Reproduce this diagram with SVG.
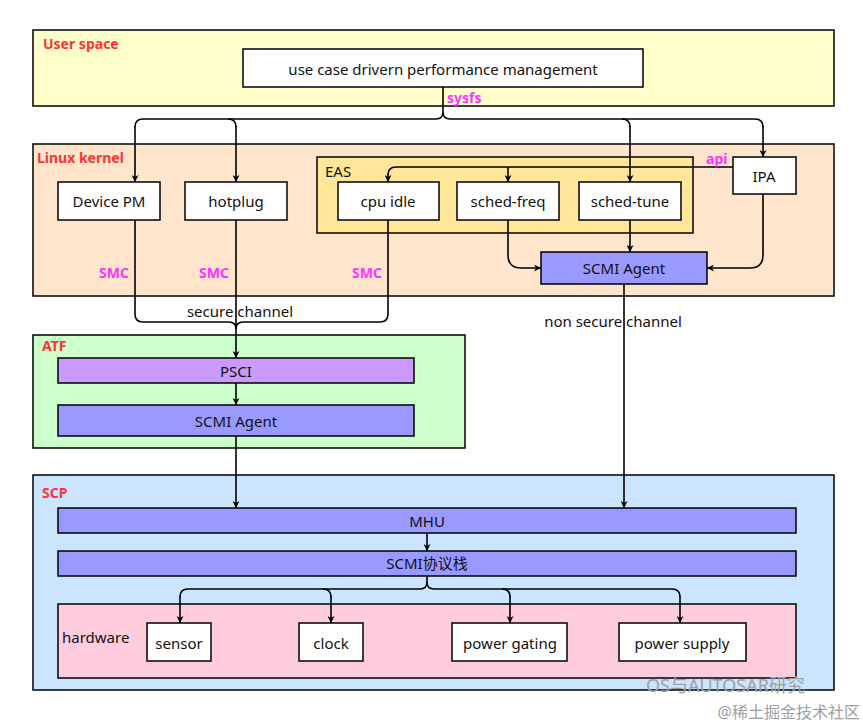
<svg xmlns="http://www.w3.org/2000/svg" width="863" height="727" viewBox="0 0 863 727">
<defs>
<marker id="arr" viewBox="0 0 10 10" refX="10" refY="5" markerWidth="7" markerHeight="7" orient="auto" markerUnits="userSpaceOnUse">
<path d="M0,0 L10,5 L0,10 L3,5 z" fill="#000"/>
</marker>
<style>
.grp{stroke:#000;stroke-width:1.5}
.box{fill:#fff;stroke:#000;stroke-width:1.5}
.bar{fill:#9999ff;stroke:#000;stroke-width:1.5}
.t{font-family:"Noto Sans","DejaVu Sans",sans-serif;font-size:15px;fill:#111;text-anchor:middle;dominant-baseline:central}
.lbl{font-family:"Noto Sans","DejaVu Sans",sans-serif;font-size:14px;font-weight:bold;fill:#ff3333}
.mag{font-family:"Noto Sans","DejaVu Sans",sans-serif;font-size:14px;font-weight:bold;fill:#ff33ff}
.c{fill:none;stroke:#000;stroke-width:1.6}
.ca{fill:none;stroke:#000;stroke-width:1.6;marker-end:url(#arr)}
.wm{font-family:"Noto Sans","Noto Sans CJK SC",sans-serif;fill:#a0a0a0}
</style>
</defs>
<rect width="863" height="727" fill="#fff"/>

<g id="userspace">
<rect x="33" y="30" width="801" height="76" fill="#ffffcc" class="grp"/>
<text x="43" y="43" class="lbl" dominant-baseline="central">User space</text>
</g>
<g id="usecase">
<rect x="243" y="49" width="400" height="38" class="box"/>
<text x="443" y="69" class="t">use case drivern performance management</text>
</g>

<g id="kernel">
<rect x="33" y="144" width="801" height="152" fill="#ffe5cc" class="grp"/>
<text x="37" y="157" class="lbl" dominant-baseline="central">Linux kernel</text>
</g>
<g id="eas">
<rect x="317" y="157" width="376" height="76" fill="#ffe699" class="grp"/>
<text x="325" y="171" class="t" style="text-anchor:start">EAS</text>
</g>
<g id="devicepm"><rect x="58" y="182" width="102" height="38" class="box"/><text x="109" y="201" class="t">Device PM</text></g>
<g id="hotplug"><rect x="185" y="182" width="102" height="38" class="box"/><text x="236" y="201" class="t">hotplug</text></g>
<g id="cpuidle"><rect x="338" y="182" width="101" height="38" class="box"/><text x="388" y="201" class="t">cpu idle</text></g>
<g id="schedfreq"><rect x="457" y="182" width="102" height="38" class="box"/><text x="508" y="201" class="t">sched-freq</text></g>
<g id="schedtune"><rect x="579" y="182" width="102" height="38" class="box"/><text x="630" y="201" class="t">sched-tune</text></g>
<g id="ipa"><rect x="733" y="157" width="63" height="37" class="box"/><text x="764" y="176" class="t">IPA</text></g>
<g id="kscmi"><rect x="541" y="252" width="166" height="32" class="bar"/><text x="624" y="268" class="t">SCMI Agent</text></g>

<g id="atf">
<rect x="33" y="335" width="432" height="113" fill="#ccffcc" class="grp"/>
<text x="42" y="345" class="lbl" dominant-baseline="central">ATF</text>
</g>
<g id="psci"><rect x="58" y="358" width="356" height="25" fill="#cc99ff" class="grp"/><text x="236" y="371" class="t">PSCI</text></g>
<g id="ascmi"><rect x="58" y="405" width="356" height="31" class="bar"/><text x="236" y="421" class="t">SCMI Agent</text></g>

<g id="scp">
<rect x="33" y="475" width="801" height="215" fill="#cce5ff" class="grp"/>
<text x="42" y="492" class="lbl" dominant-baseline="central">SCP</text>
</g>
<g id="mhu"><rect x="58" y="508" width="738" height="25" class="bar"/><text x="427" y="521" class="t">MHU</text></g>
<g id="scmistack"><rect x="58" y="551" width="738" height="25" class="bar"/><text x="427" y="563" class="t" style="font-family:'Noto Sans','Noto Sans CJK SC',sans-serif">SCMI协议栈</text></g>
<g id="hardware">
<rect x="58" y="604" width="738" height="74" fill="#ffccdd" class="grp"/>
<text x="62" y="637" class="t" style="text-anchor:start">hardware</text>
</g>
<g id="sensor"><rect x="147" y="623" width="64" height="38" class="box"/><text x="179" y="643" class="t">sensor</text></g>
<g id="clock"><rect x="299" y="623" width="64" height="38" class="box"/><text x="331" y="643" class="t">clock</text></g>
<g id="powergating"><rect x="452" y="623" width="115" height="38" class="box"/><text x="510" y="643" class="t">power gating</text></g>
<g id="powersupply"><rect x="619" y="623" width="127" height="38" class="box"/><text x="682" y="643" class="t">power supply</text></g>

<g id="connectors">
<path class="c" d="M443,87 V112 Q443,119 436,119 H143 Q135,119 135,127"/>
<path class="ca" d="M135,126 V182"/>
<path class="c" d="M443,112 Q443,119 450,119 H755 Q763,119 763,127"/>
<path class="ca" d="M763,126 V157"/>
<path class="c" d="M228,119 Q236,119 236,127"/>
<path class="ca" d="M236,126 V182"/>
<path class="c" d="M622,119 Q630,119 630,127"/>
<path class="ca" d="M630,126 V182"/>
<path class="c" d="M733,167 H396 Q388,167 388,175"/>
<path class="ca" d="M388,174 V182"/>
<path class="ca" d="M508,167 V182"/>
<path class="ca" d="M508,220 V255 Q508,268 521,268 H541"/>
<path class="ca" d="M630,220 V252"/>
<path class="ca" d="M763,194 V255 Q763,268 750,268 H707"/>
<path class="c" d="M135,220 V314 Q135,322 143,322 H229 Q236,322 236,329"/>
<path class="c" d="M388,220 V314 Q388,322 380,322 H243 Q236,322 236,329"/>
<path class="ca" d="M236,220 V358"/>
<path class="ca" d="M236,383 V405"/>
<path class="ca" d="M236,436 V508"/>
<path class="ca" d="M624,284 V508"/>
<path class="ca" d="M427,533 V551"/>
<path class="c" d="M427,576 V582 Q427,589 420,589 H188 Q180,589 180,597"/>
<path class="ca" d="M180,596 V623"/>
<path class="c" d="M427,582 Q427,589 434,589 H672 Q680,589 680,597"/>
<path class="ca" d="M680,596 V623"/>
<path class="c" d="M323,589 Q331,589 331,597"/>
<path class="ca" d="M331,596 V623"/>
<path class="c" d="M502,589 Q510,589 510,597"/>
<path class="ca" d="M510,596 V623"/>
</g>

<g id="labels">
<text x="447" y="97" class="mag" dominant-baseline="central">sysfs</text>
<text x="706" y="158" class="mag" dominant-baseline="central">api</text>
<text x="99" y="272" class="mag" dominant-baseline="central">SMC</text>
<text x="199" y="272" class="mag" dominant-baseline="central">SMC</text>
<text x="352" y="272" class="mag" dominant-baseline="central">SMC</text>
<text x="240" y="311" class="t">secure channel</text>
<text x="613" y="321" class="t">non secure channel</text>
</g>

<g id="watermark">
<text x="646" y="692" class="wm" font-size="18">OS与AUTOSAR研究</text>
<text x="860" y="718" class="wm" font-size="16" text-anchor="end">@稀土掘金技术社区</text>
</g>
</svg>
